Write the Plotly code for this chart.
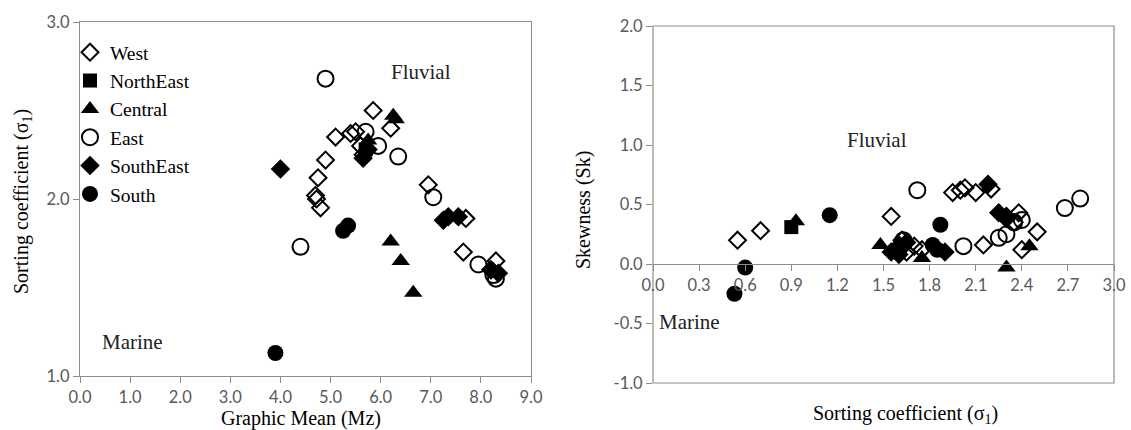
import plotly.graph_objects as go

# ---------------- data: left panel (Graphic Mean Mz vs Sorting coefficient) ----------------
west_mz = [4.70, 4.75, 4.80, 4.90, 5.10, 5.40, 5.50, 5.60, 5.65, 5.85, 6.20, 6.95, 7.65, 7.70, 8.30, 8.20, 4.72]
west_s1 = [2.02, 2.12, 1.95, 2.22, 2.35, 2.37, 2.38, 2.30, 2.25, 2.50, 2.40, 2.08, 1.70, 1.89, 1.65, 1.60, 2.00]
ne_mz = [5.70]
ne_s1 = [2.28]
central_mz = [6.25, 6.30, 5.75, 6.20, 6.40, 6.65, 8.25]
central_s1 = [2.47, 2.45, 2.33, 1.76, 1.65, 1.47, 1.60]
east_mz = [4.90, 4.40, 5.70, 5.95, 6.35, 7.05, 7.95, 8.25, 8.30]
east_s1 = [2.68, 1.73, 2.38, 2.30, 2.24, 2.01, 1.63, 1.57, 1.55]
se_mz = [4.00, 5.65, 5.75, 7.25, 7.35, 7.55, 8.20, 8.35]
se_s1 = [2.17, 2.23, 2.28, 1.88, 1.90, 1.90, 1.60, 1.58]
south_mz = [3.90, 5.25, 5.35]
south_s1 = [1.13, 1.82, 1.85]

# ---------------- data: right panel (Sorting coefficient vs Skewness) ----------------
west_sig = [0.55, 0.70, 1.55, 1.62, 1.70, 1.75, 1.95, 2.00, 2.03, 2.10, 2.15, 2.20, 2.30, 2.35, 2.38, 2.40, 2.50, 1.65]
west_sk = [0.20, 0.28, 0.40, 0.20, 0.15, 0.12, 0.60, 0.62, 0.64, 0.60, 0.16, 0.63, 0.40, 0.35, 0.43, 0.12, 0.27, 0.10]
ne_sig = [0.90]
ne_sk = [0.31]
central_sig = [0.93, 1.48, 1.60, 1.65, 1.75, 2.30, 2.45]
central_sk = [0.36, 0.16, 0.18, 0.20, 0.05, -0.03, 0.15]
east_sig = [1.72, 2.02, 2.25, 2.30, 2.35, 2.40, 2.68, 2.78, 1.63]
east_sk = [0.62, 0.15, 0.22, 0.25, 0.35, 0.37, 0.47, 0.55, 0.20]
se_sig = [1.55, 1.60, 1.65, 1.90, 2.18, 2.25, 2.30, 1.62]
se_sk = [0.10, 0.08, 0.18, 0.10, 0.67, 0.43, 0.38, 0.14]
south_sig = [0.53, 0.60, 1.15, 1.82, 1.87, 1.85]
south_sk = [-0.25, -0.03, 0.41, 0.16, 0.33, 0.12]

series_names = ["West", "NorthEast", "Central", "East", "SouthEast", "South"]
left_x = [west_mz, ne_mz, central_mz, east_mz, se_mz, south_mz]
left_y = [west_s1, ne_s1, central_s1, east_s1, se_s1, south_s1]
right_x = [west_sig, ne_sig, central_sig, east_sig, se_sig, south_sig]
right_y = [west_sk, ne_sk, central_sk, east_sk, se_sk, south_sk]

x1_ticks = [0, 1, 2, 3, 4, 5, 6, 7, 8, 9]
y1_ticks = [1, 2, 3]
x2_ticks = [0, 0.3, 0.6, 0.9, 1.2, 1.5, 1.8, 2.1, 2.4, 2.7, 3.0]
y2_ticks = [-1, -0.5, 0, 0.5, 1, 1.5, 2]

# ---------------- styles ----------------
styles = [
    dict(symbol="diamond-open", size=13, color="black", line=dict(width=2, color="black")),
    dict(symbol="square", size=14, color="black", line=dict(width=0)),
    dict(symbol="triangle-up", size=16, color="black", line=dict(width=0)),
    dict(symbol="circle-open", size=16, color="black", line=dict(width=2, color="black")),
    dict(symbol="diamond", size=15, color="black", line=dict(width=0)),
    dict(symbol="circle", size=16, color="black", line=dict(width=0)),
]

fig = go.Figure()
for name, xs, ys, st in zip(series_names, left_x, left_y, styles):
    fig.add_trace(go.Scatter(x=xs, y=ys, mode="markers", name=name, marker=st,
                             xaxis="x", yaxis="y", showlegend=True))
for name, xs, ys, st in zip(series_names, right_x, right_y, styles):
    fig.add_trace(go.Scatter(x=xs, y=ys, mode="markers", name=name, marker=st,
                             xaxis="x2", yaxis="y2", showlegend=False))

W, H = 1131, 430
tickfont = dict(family="Lato, Open Sans, sans-serif", size=16.5, color="#595959")
serif = "Liberation Serif, Times New Roman, serif"
axcol = "#8c8c8c"
title_font = dict(family=serif, size=20, color="black")
label_font = dict(family=serif, size=21, color="#222")

# domains (px -> paper)
x1d = [80 / W, 531 / W]
y1d = [1 - 376 / H, 1 - 22 / H]
x2d = [653 / W, 1114 / W]
y2d = [1 - 383 / H, 1 - 26 / H]
x2pos = y2d[0] + (y2d[1] - y2d[0]) * (0 - (-1)) / (2 - (-1))

common = dict(showgrid=False, zeroline=False, ticks="outside", ticklen=6, tickcolor=axcol,
              tickfont=tickfont, automargin=False)

ann = dict(showarrow=False, xanchor="center", yanchor="middle")

fig.update_layout(
    width=W, height=H,
    margin=dict(l=0, r=0, t=0, b=0, autoexpand=False),
    paper_bgcolor="white", plot_bgcolor="white",
    font=dict(family=serif, color="black"),
    xaxis=dict(domain=x1d, range=[0, 9], tickvals=x1_ticks, ticktext=[f"{v:.1f}" for v in x1_ticks],
               showline=True, linecolor=axcol, linewidth=1.2, mirror=True, anchor="y", **common),
    yaxis=dict(domain=y1d, range=[1, 3], tickvals=y1_ticks, ticktext=[f"{v:.1f}" for v in y1_ticks],
               showline=True, linecolor=axcol, linewidth=1.2, mirror=True, anchor="x", **common),
    xaxis2=dict(domain=x2d, range=[0, 3], tickvals=x2_ticks, ticktext=[f"{v:.1f}" for v in x2_ticks],
                showline=True, linecolor=axcol, linewidth=1.2, anchor="free", position=x2pos, **common),
    yaxis2=dict(domain=y2d, range=[-1, 2], tickvals=y2_ticks, ticktext=[f"{v:.1f}" for v in y2_ticks],
                showline=False, anchor="x2", **common),
    legend=dict(x=70 / W, y=1 - 33 / H, xanchor="left", yanchor="top",
                bgcolor="rgba(0,0,0,0)", font=dict(family=serif, size=19.5, color="black"),
                itemwidth=30, tracegroupgap=0),
    shapes=[dict(type="rect", xref="x2 domain", yref="y2 domain", x0=0, x1=1, y0=0, y1=1,
                 line=dict(color=axcol, width=1.2), layer="below")],
    annotations=[
        dict(x=6.8, y=2.72, xref="x", yref="y", text="Fluvial", font=label_font, **ann),
        dict(x=1.05, y=1.19, xref="x", yref="y", text="Marine", font=label_font, **ann),
        dict(x=1.46, y=1.04, xref="x2", yref="y2", text="Fluvial", font=label_font, **ann),
        dict(x=0.24, y=-0.49, xref="x2", yref="y2", text="Marine", font=label_font, **ann),
        # axis titles
        dict(x=301 / W, y=1 - 418 / H, xref="paper", yref="paper", text="Graphic Mean (Mz)",
             font=title_font, **ann),
        dict(x=22 / W, y=1 - 202 / H, xref="paper", yref="paper", text="Sorting coefficient (σ<sub>1</sub>)",
             textangle=-90, font=title_font, **ann),
        dict(x=905 / W, y=1 - 414 / H, xref="paper", yref="paper", text="Sorting coefficient (σ<sub>1</sub>)",
             font=title_font, **ann),
        dict(x=583 / W, y=1 - 210 / H, xref="paper", yref="paper", text="Skewness (Sk)",
             textangle=-90, font=title_font, **ann),
    ],
)

fig.write_html("out.html")
